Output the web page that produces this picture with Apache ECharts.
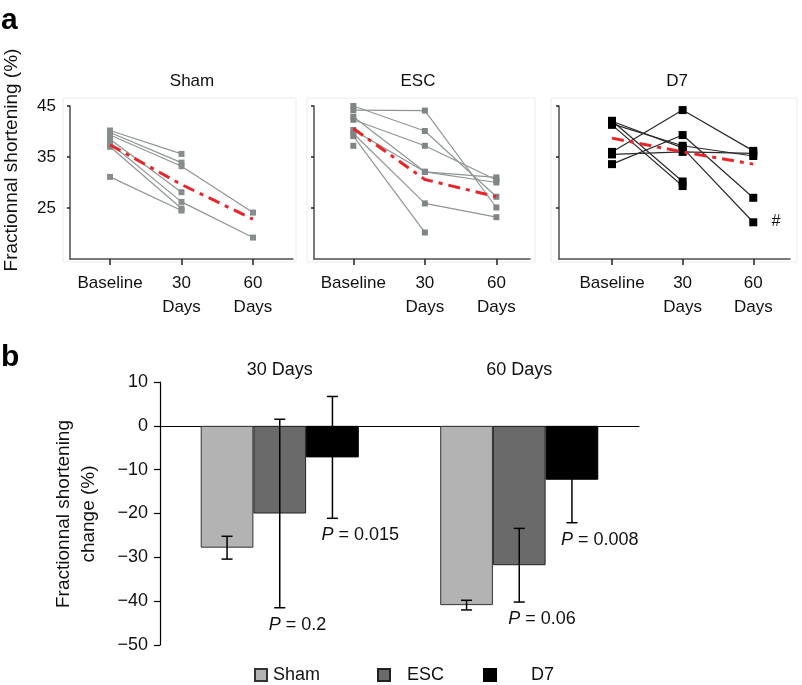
<!DOCTYPE html>
<html>
<head>
<meta charset="utf-8">
<script src="https://cdn.jsdelivr.net/npm/echarts@6/dist/echarts.min.js"></script>
<style>html,body{margin:0;padding:0;background:#fff}#c{width:802px;height:685px}</style>
</head>
<body>
<div id="c"></div>
<script>
// ---------- Panel a data ----------
const timeLabels = ['Baseline', '30\nDays', '60\nDays'];
const yTicksA = [25, 35, 45];
const panelTitles = ['Sham', 'ESC', 'D7'];

const shamSubjects = [
  [40.2, 35.6, null],
  [39.8, 33.9, null],
  [39.3, 33.2, 24.1],
  [38.5, 28.1, null],
  [37.7, 26.2, 19.2],
  [37.0, 24.9, null],
  [31.1, 24.5, null]
];
const shamMean = [37.4, 29.6, 22.8];

const escSubjects = [
  [44.2, 44.1, 25.1],
  [45.0, 40.1, 27.2],
  [42.3, 37.2, 30.5],
  [42.9, 32.1, 31.0],
  [40.3, 32.1, 30.0],
  [39.6, 25.9, 23.2],
  [39.1, 20.2, null],
  [37.2, null, null]
];
const escMean = [40.6, 30.6, 27.2];

const d7Subjects = [
  [42.1, 30.2, null],
  [41.3, 29.3, null],
  [42.0, 36.8, 22.2],
  [41.5, 37.2, 35.2],
  [36.0, 44.2, 36.2],
  [35.5, 36.0, 35.7],
  [33.6, 39.3, 27.0]
];
const d7Mean = [38.7, 36.0, 33.6];

// ---------- Panel b data ----------
const groupsB = ['30 Days', '60 Days'];
const yTicksB = [10, 0, -10, -20, -30, -40, -50];
const shamChange = [-27.8, -40.9];
const shamErr = [2.6, 1.1];
const escChange = [-20.0, -31.8];
const escErr = [21.5, 8.4];
const d7Change = [-7.2, -12.3];
const d7Err = [13.9, 9.8];
const escP = ['0.2', '0.06'];
const d7P = ['0.015', '0.008'];

const FONT = 'Liberation Sans, Arial, Helvetica, sans-serif';
const chart = echarts.init(document.getElementById('c'));

const gridsA = [
  {left: 70, top: 106, width: 223, height: 153, xmin: -0.56, xmax: 2.56},
  {left: 314, top: 106, width: 216, height: 153, xmin: -0.55, xmax: 2.47},
  {left: 559, top: 106, width: 231, height: 153, xmin: -0.75, xmax: 2.52}
];
const grid = gridsA.map(g => ({left: g.left, top: g.top, width: g.width, height: g.height, containLabel: false}));
grid.push({left: 160, top: 382, width: 479, height: 263});

const axisColA = '#4d5050';
const xAxis = gridsA.map((g, i) => ({
  type: 'value', gridIndex: i, min: g.xmin, max: g.xmax,
  splitLine: {show: false},
  axisLine: {show: true, onZero: false, lineStyle: {color: axisColA, width: 1.5}},
  axisTick: {show: true, customValues: [0, 1, 2], length: 6, inside: false, lineStyle: {color: '#222', width: 1.5}},
  axisLabel: {customValues: [0, 1, 2], formatter: v => timeLabels[Math.round(v)], color: '#111',
    fontFamily: FONT, fontSize: 17, lineHeight: 24, margin: 12}
}));
xAxis.push({
  type: 'category', gridIndex: 3, data: groupsB,
  axisLine: {show: true, onZero: true, lineStyle: {color: '#000', width: 1.2}},
  axisTick: {show: false}, axisLabel: {show: false}
});
xAxis.push({
  type: 'category', gridIndex: 3, data: groupsB, position: 'top',
  axisLine: {show: false}, axisTick: {show: false},
  axisLabel: {show: true, color: '#111', fontFamily: FONT, fontSize: 18, margin: 3}
});

const yAxis = gridsA.map((g, i) => ({
  type: 'value', gridIndex: i, min: 15, max: 45,
  splitLine: {show: false},
  axisLine: {show: true, onZero: false, lineStyle: {color: axisColA, width: 1.5}},
  axisTick: {show: true, customValues: yTicksA, length: 3, lineStyle: {color: '#222', width: 1.5}},
  axisLabel: {show: i === 0, customValues: yTicksA, color: '#111', fontFamily: FONT, fontSize: 17, margin: 14}
}));
yAxis.push({
  type: 'value', gridIndex: 3, min: -50, max: 10, interval: 10,
  splitLine: {show: false},
  axisLine: {show: true, onZero: false, lineStyle: {color: '#000', width: 1.2}},
  axisTick: {show: true, length: 6, lineStyle: {color: '#000', width: 1.2}},
  axisLabel: {color: '#111', fontFamily: FONT, fontSize: 18, margin: 12,
    formatter: v => (v < 0 ? '\u2212' + Math.abs(v) : String(v))}
});

const series = [];
function addPanel(idx, subjects, mean, lineColor, markColor, markSize) {
  subjects.forEach(s => {
    series.push({
      type: 'line', xAxisIndex: idx, yAxisIndex: idx,
      data: s.map((v, j) => [j, v]),
      symbol: 'rect', symbolSize: markSize, showSymbol: true, connectNulls: false,
      lineStyle: {color: lineColor, width: 1.2},
      itemStyle: {color: markColor},
      silent: true, animation: false, z: 2
    });
  });
  series.push({
    type: 'line', xAxisIndex: idx, yAxisIndex: idx,
    data: mean.map((v, j) => [j, v]),
    symbol: 'none',
    lineStyle: {color: '#e8262a', width: 3, type: [12, 6, 4, 6]},
    silent: true, animation: false, z: 5
  });
}
addPanel(0, shamSubjects, shamMean, '#8f9595', '#878d8d', 6);
addPanel(1, escSubjects, escMean, '#8f9595', '#7e8585', 6);
addPanel(2, d7Subjects, d7Mean, '#2a2a2a', '#000', 8);

const barCommon = {type: 'bar', xAxisIndex: 3, yAxisIndex: 3, barWidth: '22%', barGap: '0%', animation: false};
series.push(Object.assign({}, barCommon, {name: 'Sham', data: shamChange,
  itemStyle: {color: '#b3b3b3', borderColor: '#333', borderWidth: 1}}));
series.push(Object.assign({}, barCommon, {name: 'ESC', data: escChange,
  itemStyle: {color: '#6a6a6a', borderColor: '#222', borderWidth: 1}}));
series.push(Object.assign({}, barCommon, {name: 'D7', data: d7Change,
  itemStyle: {color: '#000', borderColor: '#000', borderWidth: 1}}));

const errData = [];
const pLookup = [];
[[shamChange, shamErr, null], [escChange, escErr, escP], [d7Change, d7Err, d7P]].forEach((g, gi) => {
  g[0].forEach((m, ci) => {
    errData.push([ci, gi, m, g[1][ci]]);
    pLookup.push(g[2] ? g[2][ci] : null);
  });
});

series.push({
  type: 'custom', xAxisIndex: 3, yAxisIndex: 3, z: 10, silent: true, animation: false,
  data: errData,
  renderItem: function (params, api) {
    const ci = api.value(0), gi = api.value(1), m = api.value(2), e = api.value(3);
    const band = api.size([1, 0])[0];
    const c = api.coord([ci, m]);
    const x = c[0] + (gi - 1) * band * 0.22;
    const yt = api.coord([ci, m + e])[1];
    const yb = api.coord([ci, m - e])[1];
    const cap = 5.5;
    const st = {stroke: '#000', lineWidth: 1.5};
    const children = [
      {type: 'line', shape: {x1: x, y1: yt, x2: x, y2: yb}, style: st},
      {type: 'line', shape: {x1: x - cap, y1: yt, x2: x + cap, y2: yt}, style: st},
      {type: 'line', shape: {x1: x - cap, y1: yb, x2: x + cap, y2: yb}, style: st}
    ];
    const p = pLookup[params.dataIndex];
    if (p) {
      children.push({
        type: 'text', x: x - 11, y: yb + 8,
        style: {
          text: '{i|P} = ' + p, fill: '#111', font: '18px ' + FONT,
          textAlign: 'left', textVerticalAlign: 'top',
          rich: {i: {fontStyle: 'italic', fontSize: 18, fontFamily: FONT, fill: '#111'}}
        }
      });
    }
    return {type: 'group', children: children};
  }
});

function legendFor(name, left, gap) {
  return {
    left: left, top: 661, itemWidth: 12, itemHeight: 12, icon: 'rect',
    data: [{name: name, textStyle: {padding: [0, 0, 0, gap]}}],
    textStyle: {color: '#111', fontFamily: FONT, fontSize: 18},
    selectedMode: false
  };
}

const boxes = [[63, 98, 233, 164], [307, 98, 228, 164], [551, 98, 246, 164]];
const graphic = boxes.map(b => ({
  type: 'rect', shape: {x: b[0], y: b[1], width: b[2], height: b[3]},
  style: {fill: 'none', stroke: '#ececec', lineWidth: 1}, z: -1, silent: true
}));
graphic.push({type: 'text', x: 1, y: 21, style: {text: 'a', font: 'bold 30px ' + FONT, fill: '#000', textVerticalAlign: 'middle'}});
graphic.push({type: 'text', x: 1, y: 358, style: {text: 'b', font: 'bold 30px ' + FONT, fill: '#000', textVerticalAlign: 'middle'}});
graphic.push({type: 'text', x: 2, y: 160, rotation: Math.PI / 2,
  style: {text: 'Fractionnal shortening (%)', font: '19px ' + FONT, fill: '#111', textAlign: 'center', textVerticalAlign: 'top'}});
graphic.push({type: 'text', x: 776, y: 222,
  style: {text: '#', font: '16px ' + FONT, fill: '#111', textAlign: 'center', textVerticalAlign: 'middle'}});
graphic.push({type: 'text', x: 51, y: 514, rotation: Math.PI / 2,
  style: {text: 'Fractionnal shortening\nchange (%)', font: '19px ' + FONT, lineHeight: 25, fill: '#111', textAlign: 'center', textVerticalAlign: 'top'}});

const titleCenters = [187, 413, 672];
const title = panelTitles.map((t, i) => ({
  text: t, left: titleCenters[i], textAlign: 'center', top: 68,
  textStyle: {fontFamily: FONT, fontSize: 17, fontWeight: 'normal', color: '#111'}
}));

chart.setOption({
  animation: false,
  backgroundColor: '#fff',
  title: title,
  grid: grid,
  xAxis: xAxis,
  yAxis: yAxis,
  series: series,
  legend: [legendFor('Sham', 249, 1), legendFor('ESC', 372, 12), legendFor('D7', 478, 30)],
  graphic: graphic
});
</script>
</body>
</html>
